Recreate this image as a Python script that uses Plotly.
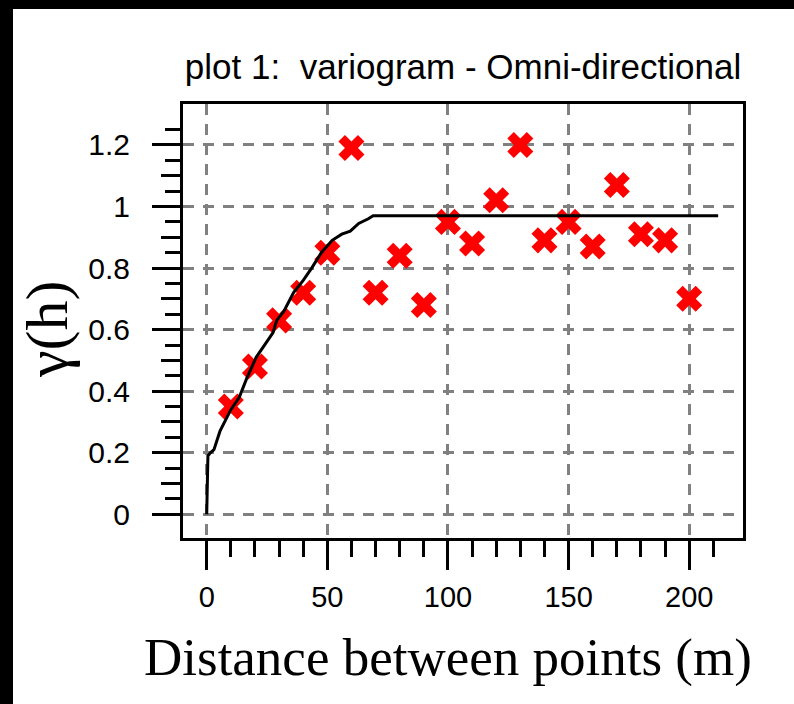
import plotly.graph_objects as go

# ---- data ----
lag_distance = [10, 20, 30, 40, 50, 60, 70, 80, 90, 100, 110, 120, 130, 140, 150, 160, 170, 180, 190, 200]
semivariance = [0.35, 0.48, 0.63, 0.72, 0.85, 1.19, 0.72, 0.84, 0.68, 0.95, 0.88, 1.02, 1.20, 0.89, 0.95, 0.87, 1.07, 0.91, 0.89, 0.70]

model_distance = [0, 0.5, 1.5, 3, 5.5, 8, 10, 13.5, 16.5, 20.5, 24, 27.5, 29, 32, 36, 40, 43.5, 47.5, 52, 56, 59.5, 63, 67, 69, 212]
model_gamma = [0, 0.19, 0.20, 0.21, 0.27, 0.31, 0.34, 0.38, 0.44, 0.51, 0.55, 0.59, 0.63, 0.66, 0.72, 0.76, 0.80, 0.85, 0.89, 0.91, 0.92, 0.945, 0.96, 0.97, 0.97]

x_major = [0, 50, 100, 150, 200]
x_minor = [10, 20, 30, 40, 60, 70, 80, 90, 110, 120, 130, 140, 160, 170, 180, 190, 210]
y_major = [0, 0.2, 0.4, 0.6, 0.8, 1.0, 1.2]
y_major_text = ["0", "0.2", "0.4", "0.6", "0.8", "1", "1.2"]
y_mid = [0.1, 0.3, 0.5, 0.7, 0.9, 1.1]
y_minor = [0.05, 0.15, 0.25, 0.35, 0.45, 0.55, 0.65, 0.75, 0.85, 0.95, 1.05, 1.15, 1.25]

title_text = "plot 1:  variogram - Omni-directional"
x_title = "Distance between points (m)"
y_title = "γ(h)"

X_RANGE = [-9.83, 222.3]
Y_RANGE = [-0.077, 1.333]

W, H = 794, 704
ML, MR, MT, MB = 183, 51, 104, 166
PW, PH = W - ML - MR, H - MT - MB

def px_x(p):
    return (p - ML) / PW

def px_y(p):
    return (H - MB - p) / PH

sans = "Liberation Sans, Arial, sans-serif"
serif = "Liberation Serif, Times New Roman, serif"

fig = go.Figure()
fig.add_trace(go.Scatter(
    x=lag_distance, y=semivariance, mode="markers",
    marker=dict(symbol="x", size=23, color="#ff0000", line=dict(width=0)),
    showlegend=False, hoverinfo="x+y"))
fig.add_trace(go.Scatter(
    x=model_distance, y=model_gamma, mode="lines", yaxis="y2",
    line=dict(color="black", width=3), showlegend=False, hoverinfo="x+y"))

grid = dict(showgrid=True, gridcolor="#808080", gridwidth=3, griddash="11px,9px")

fig.update_layout(
    width=W, height=H, autosize=False,
    margin=dict(l=ML, r=MR, t=MT, b=MB, pad=0),
    paper_bgcolor="white", plot_bgcolor="white",
    title=dict(text=title_text, x=0.5, xref="paper", xanchor="center",
               y=1 - 67 / H, yref="container", yanchor="middle",
               font=dict(family=sans, size=35, color="black")),
    xaxis=dict(range=X_RANGE, tickmode="array", tickvals=x_major,
               ticks="outside", ticklen=29, tickwidth=3, tickcolor="black",
               showline=True, linewidth=3, linecolor="black", mirror=True,
               zeroline=False, tickfont=dict(family=sans, size=29, color="black"),
               ticklabelstandoff=2,
               minor=dict(tickvals=x_minor, ticks="outside", ticklen=16, tickwidth=3,
                          tickcolor="black", showgrid=False),
               **grid),
    yaxis=dict(range=Y_RANGE, tickmode="array", tickvals=y_major, ticktext=y_major_text,
               ticks="outside", ticklen=28, tickwidth=3, tickcolor="black",
               showline=True, linewidth=3, linecolor="black", mirror=True,
               zeroline=False, tickfont=dict(family=sans, size=30, color="black"),
               ticklabelstandoff=16,
               minor=dict(tickvals=y_minor, ticks="outside", ticklen=15, tickwidth=3,
                          tickcolor="black", showgrid=False),
               **grid),
    yaxis2=dict(range=Y_RANGE, overlaying="y", side="left", tickmode="array",
                tickvals=y_mid, ticks="outside", ticklen=21, tickwidth=3,
                tickcolor="black", showticklabels=False, showgrid=False,
                zeroline=False, showline=False),
    annotations=[
        dict(text=x_title, xref="paper", yref="paper", x=px_x(448), y=px_y(657),
             xanchor="center", yanchor="middle", showarrow=False,
             font=dict(family=serif, size=53, color="black")),
        dict(text=y_title, xref="paper", yref="paper", x=px_x(47), y=px_y(330),
             xanchor="center", yanchor="middle", showarrow=False, textangle=-90,
             font=dict(family=serif, size=60, color="black")),
    ],
    shapes=[
        dict(type="rect", xref="paper", yref="paper", x0=px_x(0), x1=px_x(13),
             y0=px_y(H), y1=px_y(0), fillcolor="black", line=dict(width=0), layer="above"),
        dict(type="rect", xref="paper", yref="paper", x0=px_x(0), x1=px_x(W),
             y0=px_y(9), y1=px_y(0), fillcolor="black", line=dict(width=0), layer="above"),
    ],
)

fig.write_html("out.html", config={"displayModeBar": False},
               post_script="document.body.style.margin='0';document.body.style.overflow='hidden';")
